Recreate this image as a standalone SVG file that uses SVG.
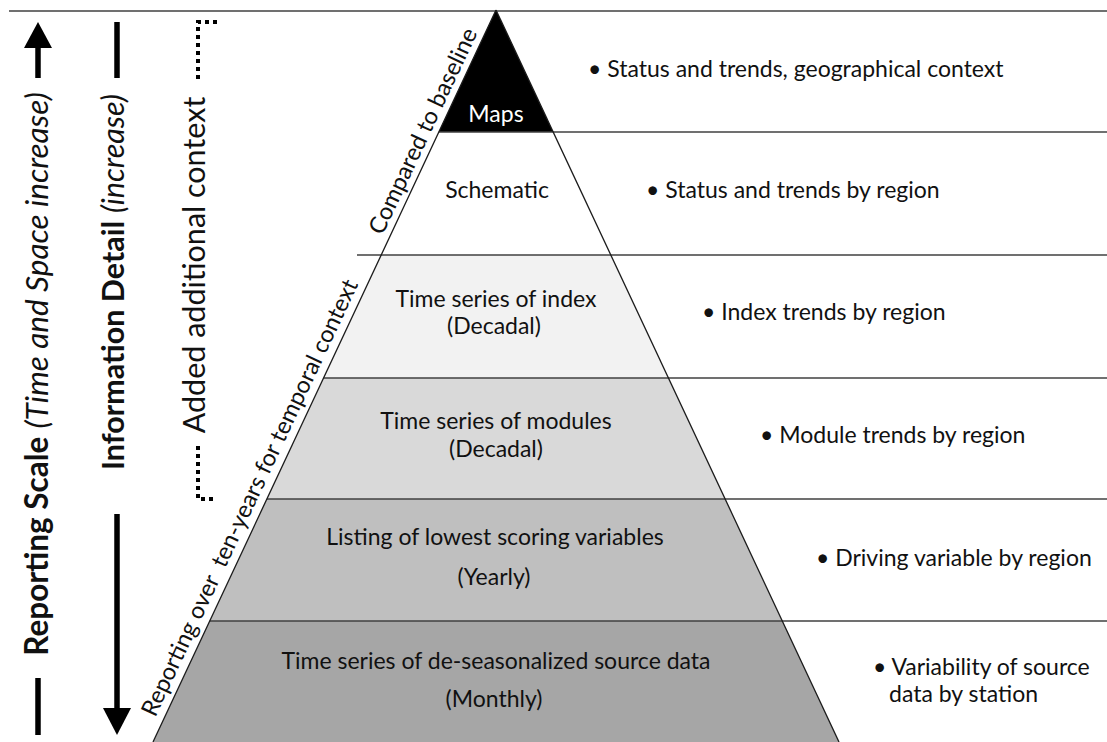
<svg xmlns="http://www.w3.org/2000/svg" width="1107" height="742" viewBox="0 0 1107 742">
<style>
text{font-family:Lato,"Open Sans","Liberation Sans",sans-serif;fill:#111;}
.t{font-size:23px;text-anchor:middle;}
.r{font-size:23px;}
.big{font-size:30.5px;}
.rot{font-size:23.5px;}
.b{font-weight:bold;}
.i{font-style:italic;}
.hl{stroke:#404040;stroke-width:1.5;fill:none;}
.edge{stroke:#1a1a1a;stroke-width:1.3;fill:none;}
.thick{stroke:#000;stroke-width:5.5;fill:none;}
.dot{stroke:#000;stroke-width:4;stroke-dasharray:4 4;fill:none;}
</style>
<rect x="0" y="0" width="1107" height="742" fill="#fff"/>
<g id="bands">
<polygon points="496,10 438.8,132 553.2,132" fill="#000"/>
<polygon points="438.8,132 553.2,132 610.8,255 381.2,255" fill="#fff"/>
<polygon points="381.2,255 610.8,255 668.4,378 323.6,378" fill="#f2f2f2"/>
<polygon points="323.6,378 668.4,378 725.1,499 266.9,499" fill="#d9d9d9"/>
<polygon points="266.9,499 725.1,499 782.3,621 209.7,621" fill="#bfbfbf"/>
<polygon points="209.7,621 782.3,621 839,742 153,742" fill="#a6a6a6"/>
</g>
<g id="lines">
<line class="hl" x1="9" y1="11" x2="1107" y2="11"/>
<line class="hl" x1="438.8" y1="132" x2="1107" y2="132"/>
<line class="hl" x1="357" y1="255" x2="1107" y2="255"/>
<line class="hl" x1="323.6" y1="378" x2="1107" y2="378"/>
<line class="hl" x1="266.9" y1="499" x2="1107" y2="499"/>
<line class="hl" x1="209.7" y1="621" x2="1107" y2="621"/>
<line class="edge" x1="496" y1="10" x2="153" y2="742"/>
<line class="edge" x1="496" y1="10" x2="839" y2="742"/>
</g>
<g id="level-maps">
<text class="t" x="496" y="122" style="fill:#fff">Maps</text>
<text class="r" x="588" y="77">• Status and trends, geographical context</text>
</g>
<g id="level-schematic">
<text class="t" x="497" y="198">Schematic</text>
<text class="r" x="646" y="198">• Status and trends by region</text>
</g>
<g id="level-index">
<text class="t" x="496" y="307">Time series of index</text>
<text class="t" x="494" y="334">(Decadal)</text>
<text class="r" x="702" y="320">• Index trends by region</text>
</g>
<g id="level-modules">
<text class="t" x="496" y="429">Time series of modules</text>
<text class="t" x="496" y="457">(Decadal)</text>
<text class="r" x="760" y="443">• Module trends by region</text>
</g>
<g id="level-listing">
<text class="t" x="495" y="545">Listing of lowest scoring variables</text>
<text class="t" x="494" y="585">(Yearly)</text>
<text class="r" x="816" y="566">• Driving variable by region</text>
</g>
<g id="level-source">
<text class="t" x="496" y="669">Time series of de-seasonalized source data</text>
<text class="t" x="494" y="707">(Monthly)</text>
<text class="r" x="873" y="675">• Variability of source</text>
<text class="r" x="889" y="702">data by station</text>
</g>
<g id="edge-labels">
<text class="rot" transform="translate(382.5,236) rotate(-64.9)">Compared to baseline</text>
<text class="rot" transform="translate(155.2,718) rotate(-64.9)" xml:space="preserve">Reporting over  ten-years for temporal context</text>
</g>
<g id="axis-labels">
<text class="big" transform="translate(48,374) rotate(-90)" text-anchor="middle" style="font-size:31.5px"><tspan class="b">Reporting Scale</tspan> <tspan class="i">(Time and Space increase)</tspan></text>
<text class="big" transform="translate(124,282) rotate(-90)" text-anchor="middle"><tspan class="b">Information Detail</tspan> <tspan class="i">(increase)</tspan></text>
<text class="big" transform="translate(205,265) rotate(-90)" text-anchor="middle">Added additional context</text>
</g>
<g id="connectors">
<line class="thick" x1="38" y1="46" x2="38" y2="78"/>
<polygon points="38,22 24,48 52,48" fill="#000"/>
<line class="thick" x1="38" y1="678" x2="38" y2="735"/>
<line class="thick" x1="117" y1="22" x2="117" y2="78"/>
<line class="thick" x1="117" y1="514" x2="117" y2="710"/>
<polygon points="117,735 103,708 131,708" fill="#000"/>
<polyline class="dot" points="217,22 198,22 198,80"/>
<polyline class="dot" points="198,446 198,499 217,499"/>
</g>
</svg>
